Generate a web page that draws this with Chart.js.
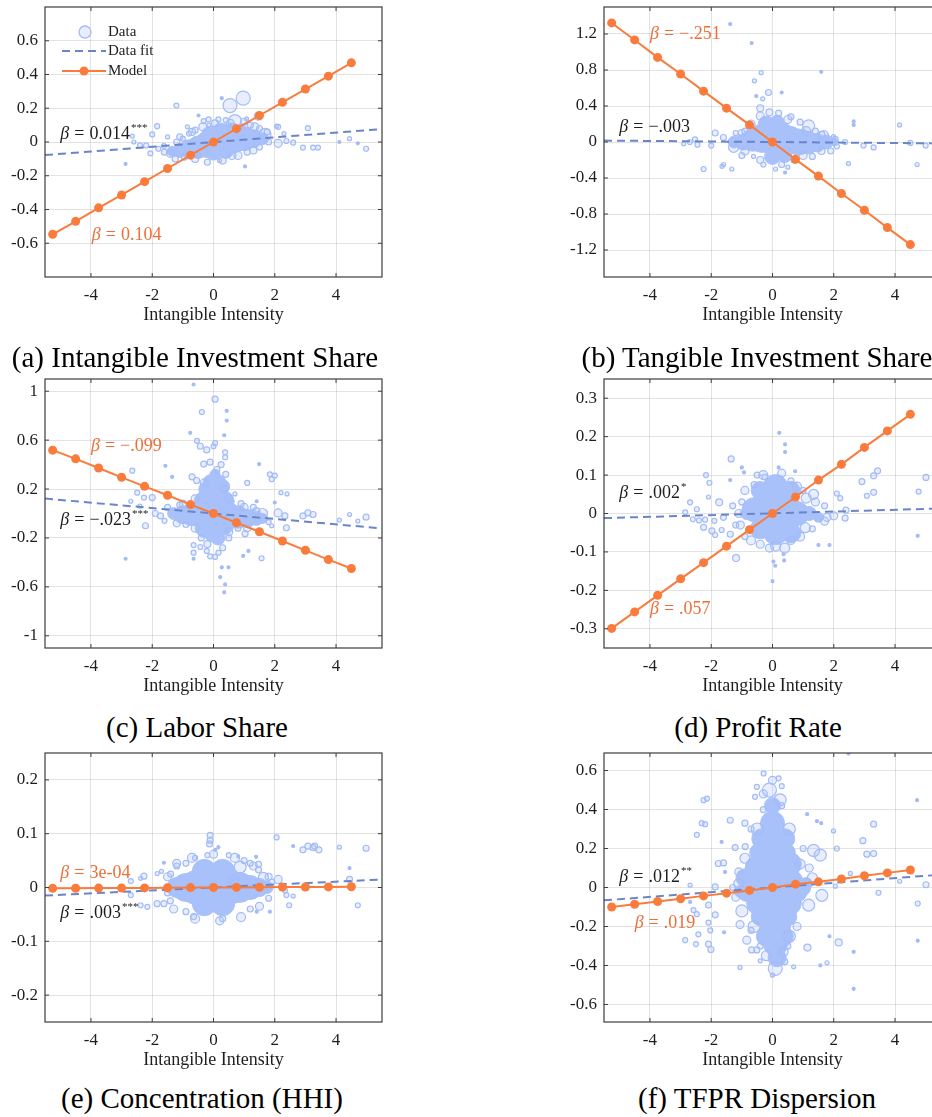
<!DOCTYPE html>
<html>
<head>
<meta charset="utf-8">
<script src="https://cdn.jsdelivr.net/npm/chart.js@4/dist/chart.umd.min.js"></script>
<style>
html, body { margin: 0; padding: 0; background: #fff; overflow: hidden; }
#wrap { position: relative; width: 932px; height: 1117px; overflow: hidden; }
#wrap canvas { position: absolute; }
.cap { position: absolute; font-family: 'Liberation Serif', 'Times New Roman', serif; font-size: 29px;
       line-height: 32px; color: #000; transform: translateX(-50%); white-space: nowrap; }
</style>
</head>
<body>
<div id="wrap">
  <canvas id="pa" width="395" height="330" style="left:0px;top:0px"></canvas>
  <canvas id="pb" width="394" height="330" style="left:560px;top:0px"></canvas>
  <canvas id="pc" width="395" height="329" style="left:0px;top:372px"></canvas>
  <canvas id="pd" width="394" height="329" style="left:560px;top:372px"></canvas>
  <canvas id="pe" width="395" height="329" style="left:0px;top:746px"></canvas>
  <canvas id="pf" width="394" height="329" style="left:560px;top:746px"></canvas>
  <div class="cap" style="left:195px;top:341px">(a) Intangible Investment Share</div>
  <div class="cap" style="left:757px;top:341px">(b) Tangible Investment Share</div>
  <div class="cap" style="left:197px;top:711px">(c) Labor Share</div>
  <div class="cap" style="left:758px;top:711px">(d) Profit Rate</div>
  <div class="cap" style="left:202px;top:1082px">(e) Concentration (HHI)</div>
  <div class="cap" style="left:757px;top:1082px">(f) TFPR Dispersion</div>
</div>
<script>
// ---- shared values ----
const xTicks = [-4, -2, 0, 2, 4];
const modelX = [-5.25, -4.5, -3.75, -3, -2.25, -1.5, -0.75, 0, 0.75, 1.5, 2.25, 3, 3.75, 4.5];
const fitX = [-5.5, 5.5];

// ---- (a) intangible investment share ----
const aTicks = [-0.6, -0.4, -0.2, 0, 0.2, 0.4, 0.6];
const aModel = [-0.547, -0.47, -0.39, -0.314, -0.235, -0.157, -0.078, 0, 0.079, 0.157, 0.235, 0.314, 0.39, 0.469];
const aFit = [-0.077, 0.077];
// data points: [x, y, weight]
const aCore = [[-1.35,-0.055,5],[-1.1,-0.05,7],[-0.8,-0.04,9],[-0.5,-0.03,11],[-0.2,-0.015,13],[0.1,0.0,14],
  [0.4,0.01,14],[0.7,0.015,13],[1.0,0.02,12],[1.3,0.02,9],[1.6,0.02,6],[0.25,0.06,9],[-0.1,0.04,9],[0.6,0.06,9],
  [0.0,-0.06,8],[0.4,-0.05,8]];
const aPts = [[-1.21,0.216,2.5],[0.27,0.26,1.5],[0.97,0.26,7],[0.54,0.216,7],[-0.49,0.157,1.5],[0.7,0.124,6.5],
  [1.08,0.137,2],[1.46,0.153,4],[2.11,0.09,2.5],[3.08,0.082,2.5],[-1.84,0.094,2.5],[1.68,0.045,6],[2.92,-0.033,2.5],
  [3.25,-0.033,2.5],[3.41,-0.033,2.5],[4.11,0,1.5],[4.44,0.02,2],[4.71,-0.008,1.5],[4.98,-0.04,2.5],[-2.87,-0.13,1.5],
  [1.03,-0.145,1.5],[-2.06,-0.067,2.5],[-2.6,0.0,2],[-2.4,-0.02,2.5],[-2.2,-0.02,2.5],[-2.65,0.035,2],[-2.0,0.045,2.5],
  [2.11,-0.008,4],[2.38,0.006,2.5],[2.6,-0.004,2.5],[-1.41,-0.067,4],[-1.62,-0.024,2.5],[2.06,0.094,2],[-0.32,0.124,2.5],
  [-0.16,0.134,2.5],[0.16,0.134,2.5],[-0.6,0.07,3],[-0.8,0.05,2.5],[1.2,0.1,3],[1.5,0.08,3],[1.8,0.0,3],[-1.0,0.02,2.5],
  [-1.2,0.0,3],[-1.6,-0.06,3],[-1.8,-0.04,2.5],[-0.5,-0.08,3],[0.6,-0.08,4],[1.1,-0.06,3],[1.5,-0.03,3],[0.9,0.09,3],
  [0.4,0.13,2.5],[-0.15,0.1,2],[-0.85,0.09,2],[-1.5,0.03,2],[2.3,0.05,2],[-0.95,-0.09,3],[0.2,-0.11,2],
  [-1.1,0.03,3],[-0.7,0.06,3.5],[-0.35,0.09,4],[0.05,0.11,3.5],[0.55,0.11,4],[1.0,0.12,3.5],[1.35,0.09,4],
  [1.75,0.06,3],[-0.6,-0.1,3.5],[-0.2,-0.12,3],[0.3,-0.11,3.5],[0.8,-0.08,4],[1.3,-0.05,3.5],[-1.25,-0.1,3]];

// ---- (b) tangible investment share ----
const bTicks = [-1.2, -0.8, -0.4, 0, 0.4, 0.8, 1.2];
const bModel = [1.323, 1.134, 0.94, 0.755, 0.565, 0.376, 0.19, 0, -0.193, -0.379, -0.572, -0.758, -0.951, -1.14];
const bFit = [0.016, -0.016];
const bCore = [[-1.25,0.0,6],[-0.95,0.0,8],[-0.65,0.02,11],[-0.35,0.04,14],[-0.05,0.05,16],[0.25,0.04,16],
  [0.55,0.02,14],[0.85,0.0,13],[1.15,-0.01,11],[1.45,-0.01,9],[1.75,0.0,7],[2.0,0.0,4],[-0.2,0.2,8],[0.15,0.22,7],
  [0.0,-0.16,8],[0.4,-0.15,7]];
const bPts = [[-1.38,1.31,1.5],[-0.68,1.1,1.5],[1.59,0.78,1.5],[-0.37,0.77,2],[-0.59,0.68,2],[-0.13,0.55,3],
  [0.3,0.55,1.5],[-0.53,0.51,1.5],[-0.32,0.48,2],[-0.4,0.375,3.5],[2.65,0.23,1.5],[2.65,0.19,1.5],[4.15,0.19,2],
  [-1.87,0.1,3],[-2.53,0.03,2.5],[-2.7,0.0,2.5],[-2.9,-0.02,2],[-2.45,-0.03,2.5],[-2.25,-0.3,2.5],[-1.6,-0.25,2],
  [-1.65,-0.27,2],[-1.33,-0.3,2],[-0.62,-0.16,2],[0.41,-0.34,1.5],[2.48,-0.24,2],[4.72,-0.25,2],[2.97,-0.04,2.5],
  [3.3,-0.06,2.5],[4.5,-0.01,2.5],[5.0,-0.04,2.5],[2.37,0.0,2.5],[1.99,0.06,2],[1.18,0.18,6],[1.67,0.07,5],
  [-1.27,-0.06,5],[-0.4,0.29,4],[-2.0,-0.04,2.5],[-1.6,0.05,3],[-1.2,0.1,2.5],[0.6,0.28,3],[0.9,0.22,3],[0.2,0.32,3],
  [1.4,0.12,3],[1.9,-0.1,3],[2.1,-0.05,2.5],[1.3,-0.16,3],[0.7,-0.2,3],[-0.3,-0.25,2.5],[0.1,-0.3,2],[-1.0,-0.15,3],
  [-0.9,0.12,3],[0.5,-0.28,2],[-1.0,0.1,3.5],[-0.7,0.2,4],[-0.1,0.33,3.5],[0.5,0.25,4],[1.1,0.12,4.5],[1.6,0.08,3.5],
  [-0.9,-0.1,4],[-0.4,-0.2,3.5],[0.3,-0.25,3],[1.0,-0.15,4],[1.6,-0.1,3.5],[2.05,0.03,3]];

// ---- (c) labor share ----
const cTicks = [-1, -0.6, -0.2, 0.2, 0.6, 1];
const cModel = [0.518, 0.447, 0.372, 0.296, 0.222, 0.149, 0.073, 0, -0.076, -0.149, -0.225, -0.301, -0.377, -0.45];
const cFit = [0.122, -0.122];
const cCore = [[-1.3,0.0,6],[-1.0,-0.01,9],[-0.7,-0.01,11],[-0.4,0.0,13],[-0.1,0.0,15],[0.2,-0.01,15],
  [0.5,-0.02,13],[0.8,-0.03,11],[1.1,-0.04,9],[1.4,-0.04,7],[1.6,-0.04,5],[0.0,0.15,12],[0.15,0.25,8],[-0.1,0.26,7],
  [0.05,0.32,5],[0.0,-0.14,11],[0.15,-0.2,7],[-0.3,0.1,10],[0.35,0.1,10],[-0.3,-0.12,9],[0.35,-0.1,9],
  [0.3,0.22,7],[-0.25,0.2,7]];
const cPts = [[-0.65,1.055,1.5],[0.05,0.935,3],[-0.38,0.83,2.5],[0.43,0.84,1.5],[0.43,0.76,1.5],[-0.76,0.66,1.5],
  [0.35,0.64,1.5],[-0.54,0.594,2.5],[-0.43,0.55,3],[-0.22,0.52,3],[0.0,0.55,2.5],[0.05,0.575,2.5],[0.38,0.46,2.5],
  [0.38,0.5,2.5],[-0.32,0.404,3],[-0.11,0.42,3],[0.11,0.36,3],[1.49,0.404,1.5],[-1.57,0.39,1.5],[-2.65,0.35,2.5],
  [-1.35,0.3,1.5],[-0.7,0.3,3],[-0.55,0.27,3],[0.25,0.4,3],[1.1,0.25,2.5],[1.84,0.32,2.5],[2.0,0.31,2.5],[1.9,0.28,2.5],
  [2.2,0.17,2],[2.4,0.16,2],[0.7,0.16,2],[1.41,0.1,1.5],[2.0,0.09,1.5],[-2.49,0.17,2.5],[-2.27,0.13,2.5],[-2.0,0.13,3],
  [-2.7,0.1,2],[-2.4,0.06,2],[2.11,0.005,4],[2.33,-0.02,3],[2.92,-0.02,3],[3.08,0.005,3],[3.25,-0.008,3],
  [4.11,-0.054,2],[4.44,-0.008,2],[4.71,-0.062,2],[4.98,-0.03,3],[2.38,-0.117,3],[1.9,-0.1,2],[1.8,-0.07,2.5],
  [1.03,-0.165,3],[1.57,-0.366,2.5],[0.97,-0.347,1.5],[1.14,-0.306,1.5],[-0.65,-0.258,2.5],[-0.43,-0.274,2.5],
  [-0.65,-0.32,2.5],[-0.22,-0.306,2.5],[0.16,-0.32,2.5],[0.05,-0.355,2.5],[-0.11,-0.35,2.5],[-0.65,-0.37,1.5],
  [-2.87,-0.37,1.5],[0.27,-0.44,1.5],[0.49,-0.44,1.5],[0.22,-0.52,1.5],[0.38,-0.58,1.5],[0.35,-0.645,1.5],
  [-2.22,-0.1,3],[-1.9,0.0,3],[-1.73,-0.02,3],[-1.5,0.05,3],[-1.6,-0.06,2.5],[1.6,0.0,5],[1.3,0.05,3],[0.9,0.08,3],
  [0.8,-0.12,3],[0.5,-0.2,3],[-0.4,-0.2,3],[-0.9,-0.09,3],[-1.1,0.07,3],[0.4,0.32,3],[-1.0,0.08,3.5],[-0.6,0.12,4],
  [0.5,0.12,4],[1.0,0.05,4],[1.4,0.02,3.5],[-1.2,-0.08,3.5],[-0.6,-0.12,4],[0.5,-0.15,4],[1.1,-0.12,3.5],
  [-0.3,0.25,4],[0.35,0.2,4],[-0.2,-0.25,3.5],[0.3,-0.28,3]];

// ---- (d) profit rate ----
const dTicks = [-0.3, -0.2, -0.1, 0, 0.1, 0.2, 0.3];
const dModel = [-0.299, -0.256, -0.213, -0.17, -0.128, -0.085, -0.042, 0, 0.043, 0.087, 0.128, 0.172, 0.215, 0.258];
const dFit = [-0.012, 0.013];
const dCore = [[0.1,0.015,20],[-0.6,0.01,12],[0.8,0.0,12],[0.1,0.07,12],[0.1,-0.05,12],[-0.4,0.06,9],[0.6,0.06,9],
  [-0.4,-0.04,10],[0.6,-0.05,10],[1.2,0.0,7],[1.5,-0.01,5],[-0.85,0.0,6]];
const dPts = [[0.22,0.21,1.5],[0.41,0.18,1.5],[0.41,0.16,1.5],[-1.35,0.142,3],[-1.0,0.12,1.5],[0.2,0.12,1.5],
  [0.74,0.11,1.5],[-0.93,0.107,1.5],[-2.17,0.1,2.5],[-2.06,0.08,2.5],[-1.38,0.087,1.5],[-0.5,0.1,3],[-0.25,0.095,3],
  [2.92,0.083,3],[3.3,0.098,3],[3.43,0.111,3],[5.01,0.094,3],[2.1,0.052,2.5],[2.21,0.04,2.5],[3.08,0.046,2.5],
  [3.3,0.055,3],[4.77,0.057,2.5],[-2.09,0.043,2],[-2.69,0.029,2.5],[-1.74,0.029,3.5],[-1.0,0.03,3],[-2.47,0.011,2.5],
  [-2.85,0.003,2.5],[-2.6,-0.015,2.5],[-2.4,-0.018,2.5],[-2.2,-0.016,2.5],[-1.9,-0.019,2.5],[2.37,-0.012,3],
  [2.4,0.009,3],[1.78,-0.01,4],[2.0,-0.006,4],[-2.25,-0.036,3],[-1.98,-0.045,3],[-1.66,-0.043,2.5],[-1.87,-0.056,2.5],
  [-1.38,-0.054,3],[-1.19,-0.116,3.5],[0.03,-0.125,1.5],[0.36,-0.106,1.5],[0.38,-0.122,1.5],[0.09,-0.136,1.5],
  [0.0,-0.176,1.5],[1.5,-0.082,1.5],[1.86,-0.082,1.5],[4.74,-0.058,1.5],[1.34,0.05,5],[1.07,-0.037,5],[-1.1,0.0,4],
  [-1.2,-0.03,3],[-0.9,-0.06,3],[-0.4,-0.08,4],[0.1,-0.085,5],[0.6,-0.07,4],[1.3,-0.04,3],[1.7,0.02,3],[1.0,0.06,3],
  [0.6,0.085,3],[-0.6,0.075,3],[-1.3,0.02,3],[-1.6,-0.01,3],[-0.9,0.06,4],[-0.3,0.1,4.5],[0.3,0.105,4],[0.8,0.07,4.5],
  [1.1,0.04,5],[-1.05,-0.03,4],[-0.7,-0.07,4.5],[-0.1,-0.09,4],[0.4,-0.09,5],[0.9,-0.06,4.5],[1.4,0.03,4],[1.7,-0.02,4]];

// ---- (e) concentration (HHI) ----
const eTicks = [-0.2, -0.1, 0, 0.1, 0.2];
const eModel = [-0.0016, -0.0014, -0.0011, -0.0009, -0.0007, -0.0005, -0.0002, 0, 0.0002, 0.0005, 0.0007, 0.0009, 0.0011, 0.0014];
const eFit = [-0.015, 0.015];
const eCore = [[-1.2,0.0,10],[-0.9,0.0,14],[-0.55,0.0,17],[-0.2,0.0,18],[0.15,0.0,18],[0.5,0.0,17],[0.85,0.0,15],
  [1.2,0.0,12],[1.5,0.0,9],[1.75,0.0,6],[-0.3,0.03,12],[0.3,0.03,12],[-0.3,-0.03,12],[0.3,-0.03,12]];
const ePts = [[-0.11,0.097,3],[-0.11,0.088,3],[-0.13,0.081,3],[0.16,0.075,1.5],[0.06,0.07,1.5],[2.06,0.093,2.5],
  [2.6,0.077,1.5],[2.92,0.07,3],[3.08,0.077,3],[3.25,0.074,3],[3.3,0.077,3],[3.44,0.07,3],[4.11,0.075,2],[4.98,0.073,3],
  [0.81,0.058,1.5],[1.39,0.057,1.5],[1.47,0.043,3],[1.47,0.033,3],[1.63,0.019,5],[2.11,0.015,4],[2.33,-0.005,2.5],
  [2.38,-0.014,2.5],[2.6,-0.016,2],[4.44,0.036,1.5],[4.44,0.015,3],[4.71,-0.033,2.5],[2.47,-0.033,2.5],
  [1.84,-0.045,1.5],[1.41,-0.045,1.5],[-1.62,0.046,1.5],[-1.84,0.026,2],[-1.7,0.03,2],[-2.27,0.021,3],[-2.38,0.017,2],
  [-2.7,0.012,2.5],[-2.7,-0.014,2.5],[-2.38,-0.033,2.5],[-2.16,-0.036,2.5],[-1.84,-0.03,3],[-1.62,-0.03,3],
  [-1.41,-0.025,3],[-0.65,-0.054,3],[0.87,0.038,6],[0.65,0.014,5],[-1.4,0.025,3],[-1.5,-0.01,3],[-1.2,0.04,3],
  [1.9,0.01,3],[1.8,-0.02,3],[1.2,0.045,3],[1.2,-0.04,3],[-0.9,0.045,3],[-0.9,-0.045,3],[0.3,-0.058,3],[1.0,0.05,3],
  [-0.2,0.06,2.5],[0.5,0.06,2.5],[-0.6,0.055,2.5],[-1.5,0.02,4],[-1.2,0.045,4],[-0.7,0.055,4.5],[0.0,0.062,4],
  [0.7,0.055,4.5],[1.3,0.04,4],[1.8,0.02,3.5],[-1.3,-0.04,4],[-0.6,-0.058,4.5],[0.2,-0.062,4],[0.9,-0.055,4.5],
  [1.5,-0.035,4]];

// ---- (f) TFPR dispersion ----
const fTicks = [-0.6, -0.4, -0.2, 0, 0.2, 0.4, 0.6];
const fModel = [-0.1, -0.086, -0.072, -0.058, -0.043, -0.029, -0.015, 0, 0.017, 0.029, 0.044, 0.06, 0.075, 0.09];
const fFit = [-0.066, 0.066];
const fCore = [[0.0,0.42,8],[0.0,0.33,12],[0.05,0.22,15],[0.05,0.1,18],[0.0,0.0,20],[0.05,-0.1,18],[0.1,-0.2,15],
  [0.1,-0.29,12],[0.15,-0.36,9],[-0.55,0.03,12],[0.6,0.03,12],[-0.85,-0.03,8],[0.85,-0.03,8],[-0.45,0.18,9],
  [0.45,0.18,9],[-0.4,-0.15,9],[0.5,-0.15,9],[-0.35,0.25,10],[0.4,0.25,10],[-0.5,0.1,12],[0.55,0.12,12],
  [-0.45,-0.08,12],[0.55,-0.08,12],[-0.2,-0.25,10],[0.35,-0.25,10],[-0.9,0.05,9],[0.95,0.0,9],[-1.05,-0.02,6],
  [1.1,0.02,6]];
const fPts = [[2.48,0.687,1.5],[-0.29,0.585,2.5],[-0.1,0.5,7],[-0.51,0.516,2.5],[-0.57,0.465,2.5],[0.2,0.56,2.5],
  [0.3,0.52,2.5],[4.72,0.448,1.5],[-2.25,0.448,2.5],[-2.14,0.456,2.5],[-1.38,0.345,3],[-0.9,0.33,3],[-0.7,0.3,3],
  [1.13,0.376,1.5],[1.45,0.34,1.5],[1.59,0.33,1.5],[3.3,0.325,3],[-2.31,0.33,2.5],[-2.2,0.325,2.5],[-2.47,0.27,2.5],
  [-1.66,0.234,1.5],[-1.22,0.205,3],[-0.89,0.21,3],[1.99,0.29,2],[2.95,0.24,3],[3.08,0.171,3],[3.3,0.174,3],
  [2.1,0.2,2.5],[1.34,0.19,6],[1.56,0.166,6],[-1.77,0.123,3],[-1.6,0.126,3],[-1.55,0.08,1.5],[-2.69,0.012,2],
  [-1.87,0.003,3],[4.15,0.032,2],[5.01,0.014,3],[3.46,-0.027,2.5],[4.74,-0.082,2.5],[4.74,-0.273,1.5],
  [-2.69,-0.074,1.5],[-2.58,-0.116,2.5],[-2.47,-0.137,2.5],[-2.09,-0.09,3],[-1.87,-0.14,3],[-2.09,-0.18,2.5],
  [-2.03,-0.22,2.5],[-2.42,-0.24,2.5],[-2.5,-0.29,2.5],[-2.85,-0.27,2.5],[-2.09,-0.29,3],[-2.01,-0.318,3],
  [-1.58,-0.23,1.5],[-1.06,-0.19,4],[-0.84,-0.27,4],[-0.68,-0.32,3],[-0.51,-0.32,3],[-1.06,-0.41,2],[-0.4,-0.376,2],
  [0.09,-0.415,7],[0.69,-0.407,2],[1.14,-0.308,3.5],[1.86,-0.25,1.5],[2.16,-0.282,3.5],[1.78,-0.386,2],[1.56,-0.4,1.5],
  [2.65,-0.33,1.5],[2.65,-0.52,1.5],[1.61,-0.04,6],[1.18,-0.09,6],[2.05,0.007,2],[2.54,0.072,2],[-1.2,-0.05,4],
  [-1.3,0.0,3],[-1.1,0.08,4],[1.2,0.1,4],[1.0,0.2,3],[0.8,-0.2,4],[-0.7,-0.22,3],[0.5,-0.3,3],[-0.4,-0.3,3],
  [0.3,0.42,3],[-0.3,0.4,3],[0.4,-0.38,3],[0.0,-0.45,2],[-0.5,0.3,6],[0.55,0.3,6],[-0.6,-0.2,6],[0.55,-0.25,6],
  [-0.9,0.15,5],[0.9,0.12,5],[-1.0,-0.12,6],[0.25,0.45,6],[-0.2,-0.35,5],[0.35,-0.33,5],[1.3,0.05,5],[-1.1,0.02,5],
  [-0.3,0.48,4],[0.0,0.55,4]];

// ---- styling ----
const SERIF = "'Liberation Serif', 'Times New Roman', serif";
const BLUE = '#a3bcf8';
const BLUE_FILL = 'rgba(163,188,248,0.25)';
const CORE = '#a9c1fa';
const FIT = '#6a85c9';
const ORANGE = '#f97c3c';
const ORANGE_TXT = '#ec6f38';
const INK = '#1e1e1e';

const fmt = v => String(Math.round(v * 100) / 100);

function drawNote(ctx, px, py, n) {
    ctx.fillStyle = n.c;
    ctx.textBaseline = 'middle';
    ctx.textAlign = 'left';
    ctx.font = 'italic 18px ' + SERIF;
    ctx.fillText('β', px, py);
    let x = px + ctx.measureText('β').width + 5;
    ctx.font = '18px ' + SERIF;
    ctx.fillText('=', x, py);
    x += ctx.measureText('=').width + 5;
    ctx.fillText(n.t, x, py);
    x += ctx.measureText(n.t).width + 1;
    if (n.s) {
        ctx.font = '11px ' + SERIF;
        ctx.fillText(n.s, x, py - 6);
    }
}

function drawLegend(ctx, a) {
    const L = a.left, T = a.top;
    ctx.font = '15px ' + SERIF;
    ctx.textBaseline = 'middle';
    ctx.textAlign = 'left';
    // Data
    ctx.beginPath();
    ctx.arc(L + 40, T + 25, 6, 0, Math.PI * 2);
    ctx.fillStyle = BLUE_FILL; ctx.fill();
    ctx.strokeStyle = BLUE; ctx.lineWidth = 1.3; ctx.stroke();
    ctx.fillStyle = INK;
    ctx.fillText('Data', L + 63, T + 25);
    // Data fit
    ctx.beginPath();
    ctx.setLineDash([8, 5]);
    ctx.moveTo(L + 17, T + 44); ctx.lineTo(L + 61, T + 44);
    ctx.strokeStyle = FIT; ctx.lineWidth = 2; ctx.stroke();
    ctx.setLineDash([]);
    ctx.fillText('Data fit', L + 63, T + 44);
    // Model
    ctx.beginPath();
    ctx.moveTo(L + 17, T + 64); ctx.lineTo(L + 61, T + 64);
    ctx.strokeStyle = ORANGE; ctx.lineWidth = 2; ctx.stroke();
    ctx.beginPath();
    ctx.arc(L + 39, T + 64, 4.5, 0, Math.PI * 2);
    ctx.fillStyle = ORANGE; ctx.fill();
    ctx.fillStyle = INK;
    ctx.fillText('Model', L + 63, T + 64);
}

// box, inside ticks, beta labels and legend
const framePlugin = {
    id: 'frame',
    afterDatasetsDraw(chart, args, opts) {
        const { ctx, chartArea: a, scales } = chart;
        ctx.save();
        ctx.strokeStyle = '#3c3c3c';
        ctx.lineWidth = 1.2;
        ctx.strokeRect(a.left, a.top, a.right - a.left, a.bottom - a.top);
        ctx.beginPath();
        scales.x.ticks.forEach(t => {
            const px = scales.x.getPixelForValue(t.value);
            ctx.moveTo(px, a.bottom); ctx.lineTo(px, a.bottom - 4);
            ctx.moveTo(px, a.top); ctx.lineTo(px, a.top + 4);
        });
        scales.y.ticks.forEach(t => {
            const py = scales.y.getPixelForValue(t.value);
            ctx.moveTo(a.left, py); ctx.lineTo(a.left + 4, py);
            ctx.moveTo(a.right, py); ctx.lineTo(a.right - 4, py);
        });
        ctx.lineWidth = 1;
        ctx.stroke();
        (opts.notes || []).forEach(n =>
            drawNote(ctx, scales.x.getPixelForValue(n.x), scales.y.getPixelForValue(n.y), n));
        if (opts.legend) drawLegend(ctx, a);
        ctx.restore();
    }
};

function toPoints(arr) {
    return arr.map(p => ({ x: p[0], y: p[1], r: p[2] }));
}

function makePanel(p) {
    const ctx = document.getElementById(p.id).getContext('2d');
    return new Chart(ctx, {
        type: 'bubble',
        data: {
            datasets: [
                {
                    type: 'line',
                    label: 'Model',
                    data: modelX.map((x, i) => ({ x: x, y: p.model[i] })),
                    borderColor: ORANGE,
                    borderWidth: 2,
                    pointRadius: 4.5,
                    pointBackgroundColor: ORANGE,
                    pointBorderWidth: 0,
                    order: 0
                },
                {
                    type: 'line',
                    label: 'Data fit',
                    data: fitX.map((x, i) => ({ x: x, y: p.fit[i] })),
                    borderColor: FIT,
                    borderWidth: 2,
                    borderDash: [8, 5],
                    pointRadius: 0,
                    order: 1
                },
                {
                    label: 'Data',
                    data: toPoints(p.pts),
                    borderColor: BLUE,
                    borderWidth: 1.2,
                    backgroundColor: c => (c.raw && c.raw.r < 2 ? BLUE : BLUE_FILL),
                    order: 2
                },
                {
                    label: 'Data core',
                    data: toPoints(p.core),
                    borderColor: CORE,
                    borderWidth: 1,
                    backgroundColor: CORE,
                    order: 3
                }
            ]
        },
        options: {
            responsive: false,
            animation: false,
            devicePixelRatio: 1,
            events: [],
            layout: { autoPadding: false, padding: { top: 7, right: 13, left: 0, bottom: 0 } },
            plugins: {
                legend: { display: false },
                tooltip: { enabled: false },
                frame: { notes: p.notes, legend: p.legend }
            },
            scales: {
                x: {
                    type: 'linear',
                    min: -5.5,
                    max: 5.5,
                    afterBuildTicks: s => { s.ticks = xTicks.map(v => ({ value: v })); },
                    afterFit: s => { s.height = 53; s.paddingLeft = 0; s.paddingRight = 0; },
                    grid: { color: 'rgba(0,0,0,0.11)', drawTicks: false },
                    border: { display: false },
                    ticks: { padding: 8, color: INK, font: { family: SERIF, size: 17 }, callback: v => fmt(v) },
                    title: {
                        display: true,
                        text: 'Intangible Intensity',
                        color: INK,
                        font: { family: SERIF, size: 18 },
                        padding: { top: 0, bottom: 4 }
                    }
                },
                y: {
                    type: 'linear',
                    min: p.yMin,
                    max: p.yMax,
                    afterBuildTicks: s => { s.ticks = p.yTicks.map(v => ({ value: v })); },
                    afterFit: s => { s.width = p.yw; s.paddingTop = 0; s.paddingBottom = 0; },
                    grid: { color: 'rgba(0,0,0,0.11)', drawTicks: false },
                    border: { display: false },
                    ticks: { padding: 7, color: INK, font: { family: SERIF, size: 17 }, callback: v => fmt(v) }
                }
            }
        },
        plugins: [framePlugin]
    });
}

const panels = [
    { id: 'pa', yMin: -0.8, yMax: 0.8, yTicks: aTicks, yw: 45, core: aCore, pts: aPts, fit: aFit, model: aModel, legend: true,
      notes: [{ t: '0.014', s: '***', x: -5.0, y: 0.045, c: INK }, { t: '0.104', x: -3.97, y: -0.555, c: ORANGE_TXT }] },
    { id: 'pb', yMin: -1.5, yMax: 1.5, yTicks: bTicks, yw: 44, core: bCore, pts: bPts, fit: bFit, model: bModel,
      notes: [{ t: '−.251', x: -4.0, y: 1.2, c: ORANGE_TXT }, { t: '−.003', x: -5.0, y: 0.16, c: INK }] },
    { id: 'pc', yMin: -1.1, yMax: 1.1, yTicks: cTicks, yw: 45, core: cCore, pts: cPts, fit: cFit, model: cModel,
      notes: [{ t: '−.099', x: -4.0, y: 0.55, c: ORANGE_TXT }, { t: '−.023', s: '***', x: -5.0, y: -0.055, c: INK }] },
    { id: 'pd', yMin: -0.35, yMax: 0.35, yTicks: dTicks, yw: 44, core: dCore, pts: dPts, fit: dFit, model: dModel,
      notes: [{ t: '.002', s: '*', x: -5.0, y: 0.052, c: INK }, { t: '.057', x: -4.0, y: -0.25, c: ORANGE_TXT }] },
    { id: 'pe', yMin: -0.25, yMax: 0.25, yTicks: eTicks, yw: 45, core: eCore, pts: ePts, fit: eFit, model: eModel,
      notes: [{ t: '3e-04', x: -5.0, y: 0.026, c: ORANGE_TXT }, { t: '.003', s: '***', x: -5.0, y: -0.048, c: INK }] },
    { id: 'pf', yMin: -0.69, yMax: 0.69, yTicks: fTicks, yw: 44, core: fCore, pts: fPts, fit: fFit, model: fModel,
      notes: [{ t: '.012', s: '**', x: -5.0, y: 0.054, c: INK }, { t: '.019', x: -4.5, y: -0.185, c: ORANGE_TXT }] }
];

panels.forEach(makePanel);
</script>
</body>
</html>
